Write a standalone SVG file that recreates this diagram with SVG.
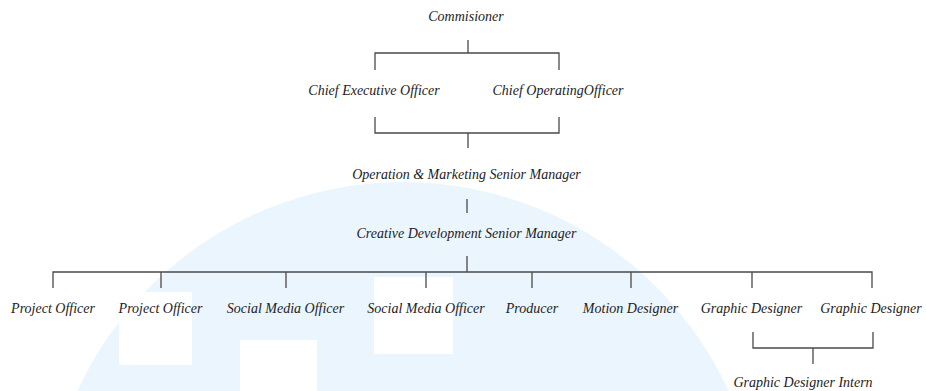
<svg xmlns="http://www.w3.org/2000/svg" width="926" height="391" viewBox="0 0 926 391">
<style>
text{font-family:"Liberation Serif","Times New Roman","DejaVu Serif",serif;font-style:italic;font-size:14px;fill:#222;text-anchor:middle}
.c{stroke:#4a4a4a;stroke-width:1.3;fill:none}
</style>
<rect width="926" height="391" fill="#fff"/>
<g id="watermark">
<circle cx="403" cy="540" r="358" fill="#ebf5fe"/>
<rect x="119" y="292" width="73" height="73" fill="#fff"/>
<rect x="240" y="340" width="77" height="60" fill="#fff"/>
<rect x="374" y="277" width="79" height="77" fill="#fff"/>
</g>
<g id="connectors" class="c">
<path d="M468 40V53M375 70V53H559V70"/>
<path d="M375 117V133H559V117M468 133V148"/>
<path d="M467 199V213"/>
<path d="M467 256V272M53 288V272H872V288M161 272V288M286 272V288M426 272V288M532 272V288M631 272V288M752 272V288"/>
<path d="M753 332V348H873V332M813 348V364"/>
</g>
<g id="n-commisioner"><text x="466" y="21">Commisioner</text></g>
<g id="n-ceo"><text x="374" y="95">Chief Executive Officer</text></g>
<g id="n-coo"><text x="558" y="95">Chief OperatingOfficer</text></g>
<g id="n-omsm"><text x="466.5" y="179">Operation &amp; Marketing Senior Manager</text></g>
<g id="n-cdsm"><text x="466.5" y="238">Creative Development Senior Manager</text></g>
<g id="n-po1"><text x="53" y="313">Project Officer</text></g>
<g id="n-po2"><text x="160.5" y="313">Project Officer</text></g>
<g id="n-smo1"><text x="285.5" y="313">Social Media Officer</text></g>
<g id="n-smo2"><text x="426" y="313">Social Media Officer</text></g>
<g id="n-producer"><text x="532" y="313">Producer</text></g>
<g id="n-motion"><text x="630.5" y="313">Motion Designer</text></g>
<g id="n-gd1"><text x="751.5" y="313">Graphic Designer</text></g>
<g id="n-gd2"><text x="871" y="313">Graphic Designer</text></g>
<g id="n-gdi"><text x="803" y="387">Graphic Designer Intern</text></g>
</svg>
